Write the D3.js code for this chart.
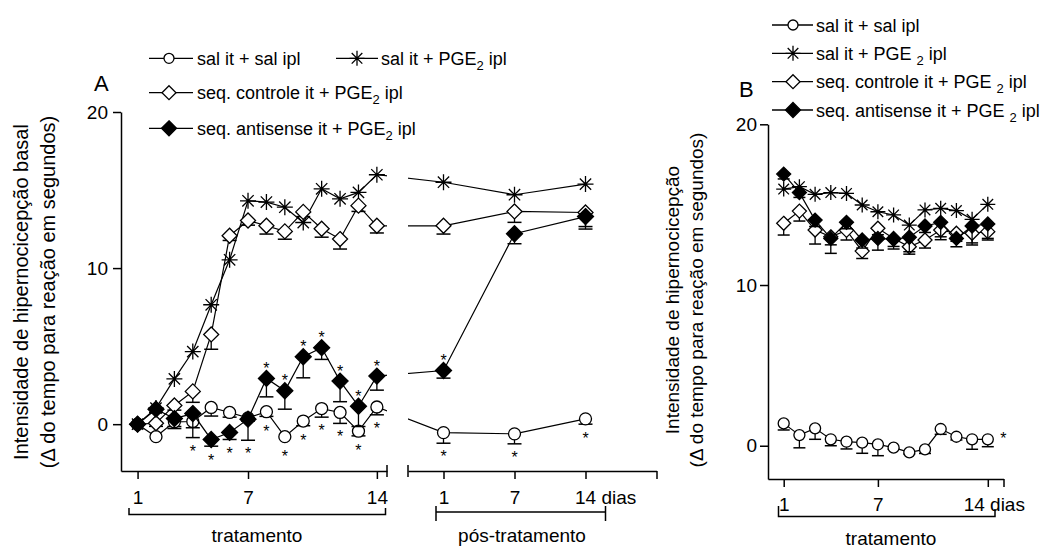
<!DOCTYPE html>
<html>
<head>
<meta charset="utf-8">
<script src="https://cdn.jsdelivr.net/npm/d3@7"></script>
<style>
  body { margin: 0; background: #fff; }
  text { font-family: "Liberation Sans", Arial, Helvetica, sans-serif; fill: #000; }
</style>
</head>
<body>
<div id="chart"></div>
<script>
// ---- data ----
var days = [1, 2, 3, 4, 5, 6, 7, 8, 9, 10, 11, 12, 13, 14];
var postDays = [1, 7, 14];

// panel A, tratamento
var salSalA = [0, -0.8, 0.15, 0.17, 1.07, 0.75, 0.4, 0.8, -0.8, 0.2, 1.0, 0.75, -0.45, 1.1];
var salSalA_sem = [0, 0, 0.3, 0.4, 0.55, 0.3, 0.2, 0.3, 0, 0.3, 0.55, 0.7, 0.3, 0.5];
var salPgeA = [0, 1.03, 2.9, 4.65, 7.65, 10.53, 14.31, 14.23, 13.9, 12.92, 15.08, 14.44, 14.85, 15.98];
var salPgeA_sem = [0, 0, 0, 0, 0, 0, 0, 0, 0, 0, 0, 0, 0, 0];
var controleA = [0, 0.06, 1.2, 2.1, 5.75, 12.07, 13.05, 12.71, 12.35, 13.6, 12.52, 11.86, 14.0, 12.71];
var controleA_sem = [0, 0.2, 0.3, 0.7, 0.95, 0.3, 0.3, 0.53, 0.5, 0.3, 0.54, 0.64, 0.37, 0.46];
var antisenseA = [0, 0.96, 0.36, 0.68, -0.98, -0.53, 0.32, 2.93, 2.14, 4.32, 4.9, 2.76, 1.15, 3.08];
var antisenseA_sem = [0, 0.2, 0.64, 1.54, 0.43, 0.45, 1.35, 1.18, 1.18, 1.35, 0.75, 1.32, 1.3, 0.9];

// panel A, pos-tratamento
var salSalPost = [-0.54, -0.62, 0.34];
var salSalPost_sem = [0.68, 0.64, 0.34];
var salPgePost = [15.5, 14.7, 15.38];
var salPgePost_sem = [0, 0, 0];
var controlePost = [12.71, 13.63, 13.56];
var controlePost_sem = [0.53, 0.7, 0.9];
var antisensePost = [3.44, 12.2, 13.3];
var antisensePost_sem = [0.49, 0.64, 0.8];

// panel B
var salSalB = [1.39, 0.66, 1.08, 0.4, 0.25, 0.19, 0.08, -0.12, -0.41, -0.23, 1.04, 0.56, 0.4, 0.4];
var salSalB_sem = [0.41, 0.79, 0.68, 0.4, 0.45, 0.66, 0.7, 0.1, 0.1, 0.25, 0.33, 0.2, 0.62, 0.46];
var salPgeB = [15.97, 16.12, 15.64, 15.75, 15.7, 14.98, 14.56, 14.36, 13.73, 14.67, 14.77, 14.63, 14.09, 15.02];
var salPgeB_sem = [0, 0, 0, 0, 0, 0, 0, 0, 0, 0, 0, 0, 0, 0];
var controleB = [13.84, 14.6, 13.42, 13.0, 13.4, 12.11, 13.53, 12.9, 12.38, 12.8, 13.42, 13.22, 13.22, 13.32];
var controleB_sem = [0.73, 0.62, 0.87, 0.5, 0.6, 0.46, 0.4, 0.5, 0.46, 0.5, 0.6, 0.5, 0.6, 0.42];
var antisenseB = [16.9, 15.75, 14.04, 12.9, 13.9, 12.8, 12.9, 12.84, 12.97, 13.67, 13.9, 12.9, 13.67, 13.8];
var antisenseB_sem = [0.3, 0.3, 0.4, 0.93, 0.4, 0.5, 0.73, 0.6, 0.9, 0.4, 0.9, 0.52, 1.18, 1.0];

// significance marks (days)
var salSalStarsA = [8, 9, 10, 11, 12, 13, 14];          // below
var antisenseStarsBelowA = [4, 5, 6, 7];
var antisenseStarsAboveA = [8, 9, 10, 11, 12, 13, 14];
var salSalStarsPost = [1, 7, 14];                        // below
var antisenseStarsPost = [1];                            // above

var yTicks = [0, 10, 20];

// ---- layout ----
var svg = d3.select("#chart").append("svg")
    .attr("width", 1060)
    .attr("height", 548);

var xA = d3.scaleLinear().domain([0.1, 14.55]).range([121, 387]);
var yA = d3.scaleLinear().domain([-3, 20]).range([471, 112]);
var xP = d3.scaleLinear().domain([0.5, 4]).range([408, 656.5]);
var xB = d3.scaleLinear().domain([0, 15]).range([768, 1003.5]);
var yB = d3.scaleLinear().domain([-2.07, 20]).range([479, 124.3]);

function starPath(r) {
    var d = r * 0.7071;
    return "M" + (-r) + ",0L" + r + ",0M0," + (-r) + "L0," + r +
        "M" + (-d) + "," + (-d) + "L" + d + "," + d +
        "M" + (-d) + "," + d + "L" + d + "," + (-d);
}
function diamondPath(r) {
    return "M0," + (-r) + "L" + r + ",0L0," + r + "L" + (-r) + ",0Z";
}

function marker(g, type, x, y, sz) {
    if (type == "circle") {
        g.append("circle").attr("cx", x).attr("cy", y).attr("r", sz.r)
            .attr("fill", "#fff").attr("stroke", "#000").attr("stroke-width", 1.3);
    } else if (type == "star") {
        g.append("path").attr("d", starPath(sz.star))
            .attr("transform", "translate(" + x + "," + y + ")")
            .attr("fill", "none").attr("stroke", "#000").attr("stroke-width", 1.3);
    } else {
        g.append("path").attr("d", diamondPath(type == "filled" ? sz.fd : sz.od))
            .attr("transform", "translate(" + x + "," + y + ")")
            .attr("fill", type == "filled" ? "#000" : "#fff")
            .attr("stroke", "#000").attr("stroke-width", 1.3);
    }
}

var line = d3.line().x(function (d) { return d.x; }).y(function (d) { return d.y; });

function drawSeries(g, pts, type, sz, clip) {
    var path = g.append("path").datum(pts)
        .attr("d", line)
        .attr("fill", "none").attr("stroke", "#000").attr("stroke-width", 1.2);
    if (clip) path.attr("clip-path", clip);
    pts.forEach(function (p) {
        if (p.yl - p.y > 0.5) {
            g.append("line").attr("x1", p.x).attr("x2", p.x).attr("y1", p.y).attr("y2", p.yl)
                .attr("stroke", "#000").attr("stroke-width", 1.3);
            g.append("line").attr("x1", p.x - sz.cap).attr("x2", p.x + sz.cap).attr("y1", p.yl).attr("y2", p.yl)
                .attr("stroke", "#000").attr("stroke-width", 1.5);
        }
    });
    pts.forEach(function (p) {
        marker(g, type, p.x, p.y, sz);
    });
}

function sigStar(g, x, y) {
    g.append("text").attr("x", x).attr("y", y + 9.5)
        .attr("text-anchor", "middle").style("font-size", "16px").text("*");
}

// ---- clip for panel A lines (gap between tratamento and pos) ----
var defs = svg.append("defs");
var clipA = defs.append("clipPath").attr("id", "clipA");
clipA.append("rect").attr("x", 121).attr("y", 0).attr("width", 266).attr("height", 548);
clipA.append("rect").attr("x", 408).attr("y", 0).attr("width", 260).attr("height", 548);

// ---- panel A series ----
var seriesA = [
    { type: "circle", a: salSalA, as: salSalA_sem, p: salSalPost, ps: salSalPost_sem },
    { type: "star", a: salPgeA, as: salPgeA_sem, p: salPgePost, ps: salPgePost_sem },
    { type: "open", a: controleA, as: controleA_sem, p: controlePost, ps: controlePost_sem },
    { type: "filled", a: antisenseA, as: antisenseA_sem, p: antisensePost, ps: antisensePost_sem }
];
var sizeA = { r: 6, star: 8, od: 7.5, fd: 8, cap: 7 };

var gA = svg.append("g");
seriesA.forEach(function (s) {
    var pts = days.map(function (d, i) {
        return { x: xA(d), y: yA(s.a[i]), yl: yA(s.a[i] - s.as[i]) };
    }).concat(postDays.map(function (d, i) {
        return { x: xP(i + 1), y: yA(s.p[i]), yl: yA(s.p[i] - s.ps[i]) };
    }));
    drawSeries(gA, pts, s.type, sizeA, "url(#clipA)");
});

// significance, panel A
function belowY(v, sem, yS, r) {
    return Math.max(yS(v) + r, yS(v - sem)) + 9.5;
}
salSalStarsA.forEach(function (d) {
    var i = d - 1;
    sigStar(gA, xA(d), belowY(salSalA[i], salSalA_sem[i], yA, 6));
});
antisenseStarsBelowA.forEach(function (d) {
    var i = d - 1;
    sigStar(gA, xA(d), belowY(antisenseA[i], antisenseA_sem[i], yA, 8));
});
antisenseStarsAboveA.forEach(function (d) {
    sigStar(gA, xA(d), yA(antisenseA[d - 1]) - 14);
});
salSalStarsPost.forEach(function (d) {
    var i = postDays.indexOf(d);
    sigStar(gA, xP(i + 1), belowY(salSalPost[i], salSalPost_sem[i], yA, 6));
});
antisenseStarsPost.forEach(function (d) {
    var i = postDays.indexOf(d);
    sigStar(gA, xP(i + 1), yA(antisensePost[i]) - 14);
});

// ---- panel A axes ----
var axisStyle = function (g) {
    g.selectAll("path, line").attr("stroke", "#000").attr("stroke-width", 1.5);
    g.selectAll("text").style("font-size", "19px").attr("fill", "#000")
        .style("font-family", '"Liberation Sans", Arial, sans-serif');
};

svg.append("g").attr("transform", "translate(121,0)")
    .call(d3.axisLeft(yA).tickValues(yTicks).tickSize(8).tickSizeOuter(0).tickPadding(5))
    .call(axisStyle);

svg.append("g").attr("transform", "translate(0,471)")
    .call(d3.axisBottom(xA).tickValues([1, 7, 14]).tickSize(8).tickSizeOuter(0).tickPadding(12))
    .call(axisStyle);

svg.append("g").attr("transform", "translate(0,471)")
    .call(d3.axisBottom(xP).tickValues([1, 2, 3, 4]).tickSize(8).tickSizeOuter(0).tickPadding(12)
        .tickFormat(function (d) { return d <= 3 ? String(postDays[d - 1]) : ""; }))
    .call(axisStyle)
    .call(function (g) {
        g.selectAll(".tick text").filter(function (d) { return d == 3; })
            .text("14 dias").attr("text-anchor", "start").attr("dx", -11);
    });

// end caps
[[387, 465, 477], [408, 465, 477]].forEach(function (c) {
    svg.append("line").attr("x1", c[0]).attr("x2", c[0]).attr("y1", c[1]).attr("y2", c[2])
        .attr("stroke", "#000").attr("stroke-width", 1.5);
});

// brackets
var bracket = svg.append("g").attr("fill", "none").attr("stroke", "#000").attr("stroke-width", 1.5);
bracket.append("path").attr("d", "M129,508V514.5H385.5V508");
bracket.append("path").attr("d", "M436,506V521M436,512H605.5M605.5,506V521");
bracket.append("path").attr("d", "M778.5,506V516.5H995V509");

svg.append("text").attr("x", 257).attr("y", 542).attr("text-anchor", "middle")
    .style("font-size", "19px").text("tratamento");
svg.append("text").attr("x", 522).attr("y", 542).attr("text-anchor", "middle")
    .style("font-size", "19px").text("pós-tratamento");

// y titles
var titleA = svg.append("g").attr("transform", "translate(28,292) rotate(-90)");
titleA.append("text").attr("text-anchor", "middle").style("font-size", "20px")
    .text("Intensidade de hipernocicepção basal");
titleA.append("text").attr("text-anchor", "middle").attr("y", 27).style("font-size", "20px")
    .text("(Δ do tempo para reação em segundos)");

svg.append("text").attr("x", 94).attr("y", 91).style("font-size", "22px").text("A");

// ---- legends ----
function legendItem(g, x0, x1, mx, tx, y, type, sz, parts) {
    g.append("line").attr("x1", x0).attr("x2", x1).attr("y1", y).attr("y2", y)
        .attr("stroke", "#000").attr("stroke-width", 1.3);
    marker(g, type, mx, y, sz);
    var t = g.append("text").attr("x", tx).attr("y", y + 6.7).style("font-size", "18px");
    parts.forEach(function (p) {
        if (p.sub) {
            t.append("tspan").attr("dy", 5).style("font-size", "13px").text(p.sub);
        } else {
            t.append("tspan").attr("dy", p.after ? -5 : 0).text(p.t);
        }
    });
}
var legSize = { r: 5, star: 7.5, od: 7, fd: 7.5 };
var legA = svg.append("g");
legendItem(legA, 149, 193, 169, 197, 58.3, "circle", legSize, [{ t: "sal it + sal ipl" }]);
legendItem(legA, 336, 378, 357, 381, 58.3, "star", legSize, [{ t: "sal it + PGE" }, { sub: "2" }, { t: " ipl", after: true }]);
legendItem(legA, 149, 193, 169, 197, 92.7, "open", legSize, [{ t: "seq. controle it + PGE" }, { sub: "2" }, { t: " ipl", after: true }]);
legendItem(legA, 149, 193, 169, 197, 128.3, "filled", legSize, [{ t: "seq. antisense it + PGE" }, { sub: "2" }, { t: " ipl", after: true }]);

// ---- panel B ----
var seriesB = [
    { type: "circle", v: salSalB, s: salSalB_sem },
    { type: "star", v: salPgeB, s: salPgeB_sem },
    { type: "open", v: controleB, s: controleB_sem },
    { type: "filled", v: antisenseB, s: antisenseB_sem }
];
var sizeB = { r: 5.5, star: 7.5, od: 7, fd: 7, cap: 6 };
var gB = svg.append("g");
seriesB.forEach(function (s) {
    var pts = days.map(function (d, i) {
        return { x: xB(d), y: yB(s.v[i]), yl: yB(s.v[i] - s.s[i]) };
    });
    drawSeries(gB, pts, s.type, sizeB, null);
});
// significance, panel B (whole sal + sal curve)
sigStar(gB, xB(14) + 15.5, yB(salSalB[13]) - 5);

svg.append("g").attr("transform", "translate(768,0)")
    .call(d3.axisLeft(yB).tickValues(yTicks).tickSize(8).tickSizeOuter(0).tickPadding(3))
    .call(axisStyle);
svg.append("g").attr("transform", "translate(0,479)")
    .call(d3.axisBottom(xB).tickValues([1, 7, 14, 15]).tickSize(8).tickSizeOuter(0).tickPadding(11)
        .tickFormat(function (d) { return d == 15 ? "" : (d == 14 ? "14 dias" : String(d)); }))
    .call(axisStyle)
    .call(function (g) {
        g.selectAll(".tick text").filter(function (d) { return d == 14; }).attr("dx", 6);
    });

svg.append("text").attr("x", 891).attr("y", 545).attr("text-anchor", "middle")
    .style("font-size", "19px").text("tratamento");

var titleB = svg.append("g").attr("transform", "translate(679,300) rotate(-90)");
titleB.append("text").attr("text-anchor", "middle").style("font-size", "19px")
    .text("Intensidade de hipernocicepção");
titleB.append("text").attr("text-anchor", "middle").attr("y", 24).style("font-size", "19px")
    .text("(Δ do tempo para reação em segundos)");

svg.append("text").attr("x", 739).attr("y", 97).style("font-size", "22px").text("B");

var legB = svg.append("g");
legendItem(legB, 772, 813, 793, 816, 25, "circle", legSize, [{ t: "sal it + sal ipl" }]);
legendItem(legB, 772, 813, 793, 816, 53.3, "star", legSize, [{ t: "sal it + PGE " }, { sub: "2" }, { t: " ipl", after: true }]);
legendItem(legB, 772, 813, 793, 816, 81.7, "open", legSize, [{ t: "seq. controle it + PGE " }, { sub: "2" }, { t: " ipl", after: true }]);
legendItem(legB, 772, 813, 793, 816, 110, "filled", legSize, [{ t: "seq. antisense it + PGE " }, { sub: "2" }, { t: " ipl", after: true }]);
</script>
</body>
</html>
